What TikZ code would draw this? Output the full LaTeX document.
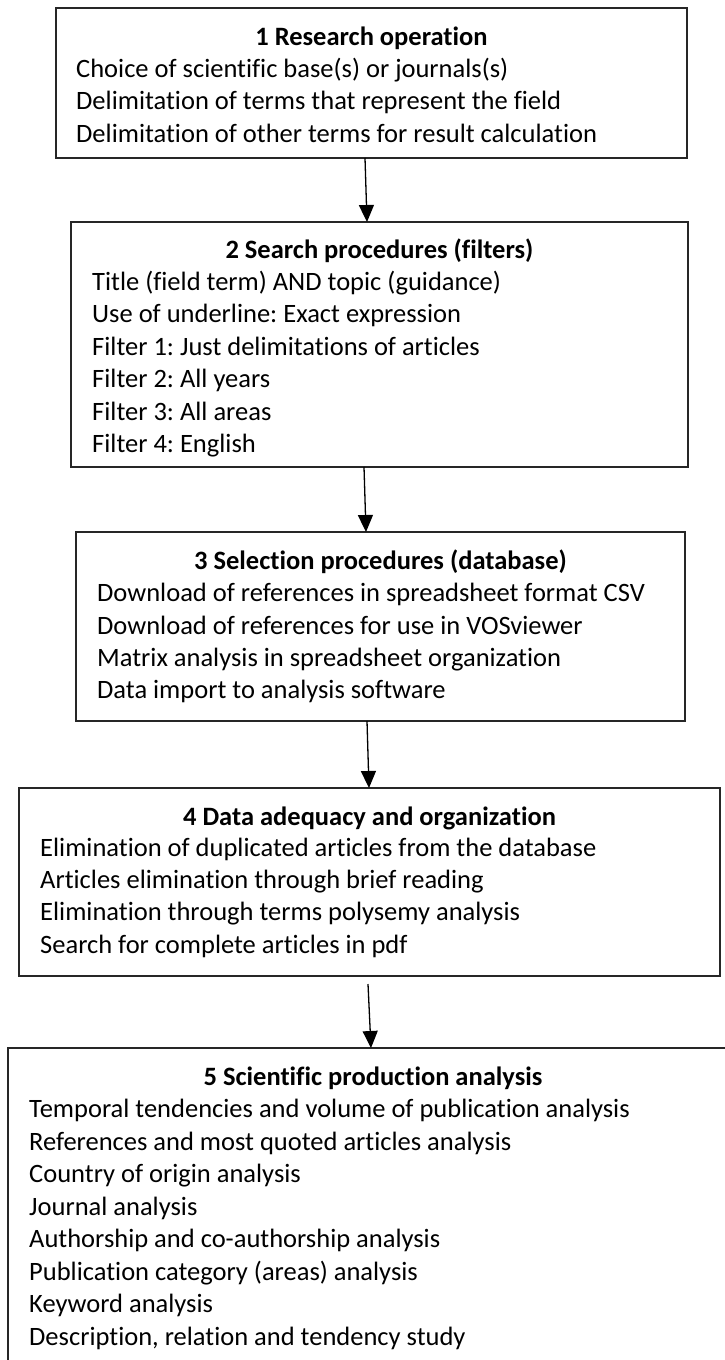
\documentclass[tikz,border=0pt]{standalone}
\usepackage{fontspec}
\setmainfont{Carlito}[Ligatures=NoCommon]
\usetikzlibrary{arrows.meta}
\frenchspacing
\begin{document}
\begin{tikzpicture}[x=1pt,y=-1pt,
  flowbox/.style={draw=black!85, line width=1.5pt, inner sep=0pt, outer sep=0pt, anchor=north west},
  bodytext/.style={anchor=base west, inner sep=0pt, font=\fontsize{26.5pt}{32pt}\selectfont},
  headtext/.style={anchor=base, inner sep=0pt, font=\fontsize{26.5pt}{32pt}\selectfont\bfseries},
  flowarrow/.style={line width=1.3pt, -{Triangle[length=17pt,width=15pt]}}]
\path[use as bounding box, clip] (0,0) rectangle (725,1360);
\fill[white] (0,0) rectangle (725,1360);
% boxes
\node[flowbox, minimum width=631pt, minimum height=150pt] (b1) at (56,8) {};
\node[flowbox, minimum width=617pt, minimum height=245pt] (b2) at (71,222) {};
\node[flowbox, minimum width=609pt, minimum height=189pt] (b3) at (76,532) {};
\node[flowbox, minimum width=701pt, minimum height=188pt] (b4) at (19,788) {};
\node[flowbox, minimum width=730pt, minimum height=340pt] (b5) at (8,1048) {};
% box 1
\node[headtext] (h1) at (371.5,45) {1 Research operation};
\node[bodytext] (t1a) at (76,77) {Choice of scientific base(s) or journals(s)};
\node[bodytext] (t1b) at (76,109) {Delimitation of terms that represent the field};
\node[bodytext] (t1c) at (76,142) {Delimitation of other terms for result calculation};
% box 2
\node[headtext] (h2) at (379.5,258) {2 Search procedures (filters)};
\node[bodytext] (t2a) at (92,290) {Title (field term) AND topic (guidance)};
\node[bodytext] (t2b) at (92,322) {Use of underline: Exact expression};
\node[bodytext] (t2c) at (92,355) {Filter 1: Just delimitations of articles};
\node[bodytext] (t2d) at (92,387) {Filter 2: All years};
\node[bodytext] (t2e) at (92,420) {Filter 3: All areas};
\node[bodytext] (t2f) at (92,452) {Filter 4: English};
% box 3
\node[headtext] (h3) at (380.5,569) {3 Selection procedures (database)};
\node[bodytext] (t3a) at (97,601) {Download of references in spreadsheet format CSV};
\node[bodytext] (t3b) at (97,634) {Download of references for use in VOSviewer};
\node[bodytext] (t3c) at (97,666) {Matrix analysis in spreadsheet organization};
\node[bodytext] (t3d) at (97,698) {Data import to analysis software};
% box 4
\node[headtext] (h4) at (369.5,825) {4 Data adequacy and organization};
\node[bodytext] (t4a) at (40,856) {Elimination of duplicated articles from the database};
\node[bodytext] (t4b) at (40,888) {Articles elimination through brief reading};
\node[bodytext] (t4c) at (40,920) {Elimination through terms polysemy analysis};
\node[bodytext] (t4d) at (40,953) {Search for complete articles in pdf};
% box 5
\node[headtext] (h5) at (373,1085) {5 Scientific production analysis};
\node[bodytext] (t5a) at (29,1117) {Temporal tendencies and volume of publication analysis};
\node[bodytext] (t5b) at (29,1150) {References and most quoted articles analysis};
\node[bodytext] (t5c) at (29,1182) {Country of origin analysis};
\node[bodytext] (t5d) at (29,1215) {Journal analysis};
\node[bodytext] (t5e) at (29,1247) {Authorship and co-authorship analysis};
\node[bodytext] (t5f) at (29,1280) {Publication category (areas) analysis};
\node[bodytext] (t5g) at (29,1312) {Keyword analysis};
\node[bodytext] (t5h) at (29,1345) {Description, relation and tendency study};
% arrows
\draw[flowarrow] ([xshift=-6.5pt]b1.south) -- ([xshift=-12.5pt]b2.north);
\draw[flowarrow] ([xshift=-15.5pt]b2.south) -- ([xshift=-14.5pt]b3.north);
\draw[flowarrow] ([xshift=-13.5pt]b3.south) -- ([xshift=-0.5pt]b4.north);
\draw[flowarrow] ([xshift=-1.5pt,yshift=-8pt]b4.south) -- ([xshift=-2pt]b5.north);
\end{tikzpicture}
\end{document}
